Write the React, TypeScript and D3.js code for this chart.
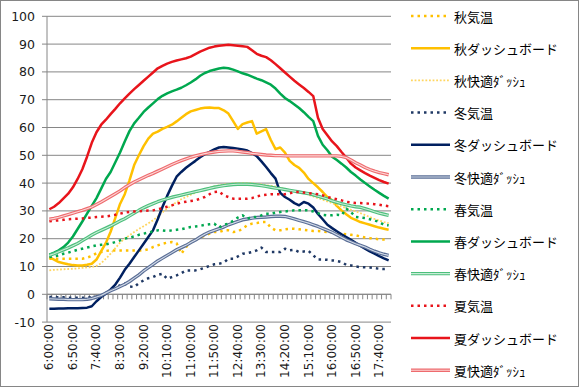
import * as d3 from "d3";

// 10-minute steps from 6:00 to 18:00
const times: string[] = Array.from({ length: 73 }, (_, i) => `${6 + Math.floor(i / 6)}:${i % 6}0:00`);
const yTicks = [-10, 0, 10, 20, 30, 40, 50, 60, 70, 80, 90, 100];

const autumnTemp = [
  12.8, 12.8, 12.8, 12.8, 12.8, 12.8, 12.8, 12.8, 13.2, 13.8,
  14.8, 15.2, 15.6, 15.8, 15.8, 15.8, 15.8, 15.8, 15.8, 15.8,
  15.8, 16.2, 17, 17.6, 18.2, 18.6, 18.8, 18.4, 14.6, 17,
  18.8, 19.6, 20.4, 21.2, 21.8, 22.4, 22.4, 23, 23, 22.4,
  22.6, 23.6, 24.8, 25.4, 25.6, 26, 26, 24, 23, 23,
  23.4, 23.6, 23.6, 23.4, 23.2, 23, 22.8, 22.8, 22.6, 22.4,
  22.2, 22, 21.8, 21.6, 21.4, 21.2, 20.8, 20.4, 20.2, 20,
  19.8, 19.7, 19.7,
];
const autumnDash = [
  13.4, 12.5, 11.6, 11.2, 10.8, 10.5, 10.4, 10.4, 10.6, 11,
  12.5, 15.5, 18.5, 22.5, 27.5, 32.5, 36, 41, 46.5, 50,
  53.3, 56, 57.8, 58.5, 59.5, 60.2, 61, 62.2, 63.5, 64.8,
  65.8, 66.3, 66.8, 67.1, 67.2, 67, 67, 66.2, 65, 62.3,
  59.5, 61.2, 61.8, 62.3, 57.8, 58.6, 59.4, 55.5, 52.2, 52.8,
  51, 48, 46.5, 45.5, 43.8, 41.5, 40, 38.5, 36.8, 35,
  33.8, 31.8, 30.2, 28.8, 27.5, 26.8, 26, 25.5, 25, 24.5,
  24, 23.6, 23.2,
];
const autumnComfort = [
  8.6, 8.8, 8.9, 9, 9.1, 9.2, 9.3, 9.5, 9.7, 9.8,
  10.2, 11.2, 12.8, 14.6, 16.6, 18.6, 20, 21.2, 22.4, 23.5,
  24.5, 25.5, 26.6, 28, 29.5, 30.8, 32, 33.2, 34.2, 35,
  35.8, 36.5, 37.2, 37.8, 38.3, 38.8, 39.2, 39.5, 39.7, 39.9,
  40, 40, 40, 39.9, 39.7, 39.5, 39.2, 39, 38.7, 38.3,
  37.9, 37.5, 37.1, 36.7, 36.3, 35.8, 35.2, 34.6, 34, 33.4,
  32.8, 32.2, 31.6, 31, 30.4, 29.8, 29.2, 28.5, 27.8, 27.1,
  26.5, 26, 25.6,
];
const winterTemp = [
  -1, -1, -1.1, -1.1, -1.2, -1.2, -1.2, -1.2, -1.2, -1,
  -0.8, -0.4, 0.4, 1.4, 2.4, 3.2, 3.8, 2.8, 2.6, 4,
  5, 5.8, 6.2, 7, 7.4, 5.6, 6.2, 6.8, 7.6, 8.6,
  8.6, 8.6, 9, 9.6, 10.2, 10.8, 11, 11.4, 12.8, 12.8,
  13.6, 14.6, 14.8, 15.2, 15.8, 16.8, 15.2, 15.2, 15.2, 15.2,
  16.4, 15.8, 16, 15.2, 15.4, 15.6, 14, 12.5, 12.5, 12.4,
  12.2, 12, 11.6, 10.6, 10.4, 10, 9.8, 9.7, 9.6, 9.4,
  9.2, 9.1, 9.2,
];
const winterDash = [
  -5.2, -5.2, -5.1, -5.1, -5, -5, -5, -4.9, -4.8, -4.3,
  -2.5, -1, 0.2, 1.8, 3.5, 6, 8.8, 11, 13.4, 15.8,
  18.2, 20.6, 23, 27, 31.4, 35.4, 39, 42.3, 44, 45.5,
  46.8, 48, 49.3, 50.4, 51.2, 52.1, 52.8, 53, 52.8, 52.6,
  52.4, 52.1, 51.7, 50.8, 49.7, 47.8, 45.8, 43.6, 41.6, 36.5,
  35, 34, 32.8, 32, 33.2, 32.6, 31.2, 28.9, 27, 25,
  23.8, 22.7, 21.6, 20.6, 19.6, 18.5, 17.4, 16.4, 15.4, 14.6,
  13.7, 12.9, 12.2,
];
const winterComfort = [
  -1.6, -1.7, -1.8, -1.8, -1.9, -1.9, -1.9, -1.9, -1.8, -1.5,
  -1, -0.4, 0.5, 1.3, 2, 2.8, 3.6, 4.6, 5.8, 7,
  8.4, 9.6, 10.8, 12, 13, 14, 15, 16, 16.8, 17.6,
  18.6, 19.5, 20.6, 21.6, 22.4, 23, 23.6, 24.2, 25, 25.6,
  26.2, 26.8, 27.1, 27.4, 27.6, 27.7, 27.8, 28, 28.1, 28.1,
  28, 27.6, 27.1, 26.6, 26.1, 25.6, 25, 24.4, 23.7, 23,
  22.3, 21.4, 20.5, 19.6, 18.9, 18.2, 17.6, 17, 16.2, 15.5,
  14.9, 14.4, 14,
];
const springTemp = [
  13.4, 13.6, 14, 14.6, 15, 15.5, 16, 16.4, 16.8, 17.2,
  17.6, 17.8, 18, 18.3, 18.8, 19.4, 20, 20.4, 20.8, 21.4,
  21.8, 22.2, 22.6, 23, 23, 22.8, 23, 23.2, 23.4, 23.8,
  24.2, 24.4, 24.6, 25, 25.2, 25.4, 24, 25, 25.4, 26.4,
  27.6, 28.4, 27.2, 27.8, 27.8, 28.4, 29, 29, 29.4, 29.6,
  29.8, 30, 30.2, 30.2, 30.2, 30.2, 29.8, 29.2, 28.6, 28.4,
  28.4, 28.6, 28.4, 30.8, 29.6, 27.8, 27.6, 27.4, 27, 26.6,
  26, 25, 24.8,
];
const springDash = [
  14.3, 15, 15.8, 17, 18.6, 20.8, 23.5, 26.2, 29, 31.8,
  34.6, 38, 41.5, 44, 47.5, 51, 55, 58.7, 61.5, 63.5,
  65.6, 67.2, 68.7, 70.2, 71.4, 72.3, 73, 73.6, 74.3, 75.2,
  76.2, 77.3, 78.6, 79.6, 80.3, 80.8, 81.2, 81.5, 81.3, 80.8,
  80.2, 79.5, 79, 78.3, 77.6, 77, 76.2, 75.4, 74, 72.2,
  70.6, 69.5, 68.3, 67, 65.5, 63.8, 62.3, 57, 53.8, 51.8,
  49.5, 48.3, 47, 45.6, 44, 42.7, 41.3, 40, 38.8, 37.6,
  36.5, 35.4, 34.4,
];
const springComfort = [
  14, 14.6, 15.3, 16, 16.7, 17.5, 18.3, 19.3, 20.3, 21.3,
  22.2, 23, 23.8, 24.6, 25.5, 26.4, 27.2, 28.2, 29.2, 30.2,
  31.1, 31.9, 32.6, 33.3, 33.9, 34.4, 34.9, 35.3, 35.7, 36.1,
  36.5, 36.9, 37.3, 37.7, 38.1, 38.5, 38.8, 39.1, 39.3, 39.5,
  39.6, 39.6, 39.6, 39.5, 39.3, 39.1, 38.8, 38.5, 38.2, 38,
  37.7, 37.4, 37.1, 36.8, 36.5, 36.2, 35.8, 35.3, 34.8, 34.3,
  33.6, 33.1, 32.6, 32.2, 31.8, 31.5, 31.3, 30.8, 30.3, 29.7,
  29.2, 28.8, 28.4,
];
const summerTemp = [
  26.3, 26.5, 26.6, 26.8, 27, 27.1, 27.2, 27.3, 27.5, 27.6,
  27.8, 27.9, 28, 28.3, 28.6, 29, 29.4, 29.6, 29.8, 29.9,
  30, 30.1, 30.2, 30.6, 31, 31.5, 32, 32.6, 33, 33.3,
  33.6, 33.8, 34.4, 35, 36, 36.8, 37, 35.6, 35, 34.4,
  34.4, 34.4, 34.4, 34.6, 35.2, 35.6, 35.8, 36, 36, 36,
  36, 36.3, 36.8, 36.8, 36.6, 36.4, 36.2, 36, 35.6, 35,
  34.6, 34.2, 33.8, 33.3, 33, 32.8, 32.8, 32.7, 32.6, 32.4,
  32.2, 31.9, 31.7,
];
const summerDash = [
  30.6, 31.5, 32.8, 34.5, 36.2, 38.5, 41.5, 45, 49.5, 54.5,
  58.3, 61, 62.8, 64.8, 66.7, 68.7, 70.5, 72.2, 73.8, 75.3,
  76.8, 78.3, 79.8, 81.3, 82.2, 83, 83.6, 84.1, 84.5, 84.9,
  85.5, 86.4, 87.3, 88, 88.7, 89.1, 89.4, 89.6, 89.8, 89.6,
  89.4, 89.2, 89, 87.8, 86.5, 85.8, 85.3, 84.2, 82.8, 81.3,
  79.8, 78.3, 76.8, 75.5, 74.2, 72.8, 71.3, 63.5, 59.5, 57.2,
  55, 53.3, 51.2, 49.2, 47, 45.6, 44.6, 43.6, 42.7, 41.9,
  41.1, 40.4, 39.8,
];
const summerComfort = [
  27, 27.3, 27.7, 28.2, 28.7, 29.2, 29.7, 30.2, 30.8, 31.4,
  32.3, 33.2, 34.2, 35.2, 36.2, 37.2, 38.4, 39.4, 40.4, 41.2,
  42, 42.8, 43.5, 44.3, 45.1, 45.9, 46.7, 47.4, 48.1, 48.7,
  49.3, 49.8, 50.2, 50.6, 50.9, 51.2, 51.4, 51.5, 51.6, 51.6,
  51.4, 51.2, 51, 50.7, 50.5, 50.3, 50.1, 50, 49.9, 49.9,
  49.8, 49.8, 49.8, 49.8, 49.8, 49.8, 49.8, 49.8, 49.8, 49.8,
  49.8, 49.8, 49.6, 49.2, 48.3, 47.3, 46.5, 45.6, 44.9, 44.3,
  43.8, 43.4, 43,
];

type Kind = "temp" | "dash" | "double" | "fine";
interface Series {
  name: string;
  values: number[];
  color: string;
  inner?: string;
  kind: Kind;
}

const series: Series[] = [
  { name: "秋気温", values: autumnTemp, color: "#FFC000", kind: "temp" },
  { name: "秋ダッシュボード", values: autumnDash, color: "#FFC000", kind: "dash" },
  { name: "秋快適ﾀﾞｯｼｭ", values: autumnComfort, color: "#FFD660", kind: "fine" },
  { name: "冬気温", values: winterTemp, color: "#1F3864", kind: "temp" },
  { name: "冬ダッシュボード", values: winterDash, color: "#002060", kind: "dash" },
  { name: "冬快適ﾀﾞｯｼｭ", values: winterComfort, color: "#5A6E96", inner: "#D3DBE8", kind: "double" },
  { name: "春気温", values: springTemp, color: "#00A84F", kind: "temp" },
  { name: "春ダッシュボード", values: springDash, color: "#00A84F", kind: "dash" },
  { name: "春快適ﾀﾞｯｼｭ", values: springComfort, color: "#4CBF7C", inner: "#C9EDD7", kind: "double" },
  { name: "夏気温", values: summerTemp, color: "#E8141B", kind: "temp" },
  { name: "夏ダッシュボード", values: summerDash, color: "#E8141B", kind: "dash" },
  { name: "夏快適ﾀﾞｯｼｭ", values: summerComfort, color: "#EE6B6E", inner: "#FCD6D6", kind: "double" },
];

const W = 580;
const H = 391;
const left = 47;
const right = 391;
const top = 16.3;
const bottom = 322.1;
const gridColor = "#868686";
const numFont = "'DejaVu Sans', sans-serif";
const jpFont = "'Noto Sans CJK JP', sans-serif";

const strokeProps = (s: Series) => {
  switch (s.kind) {
    case "temp":
      return { stroke: s.color, strokeWidth: 2.5, strokeDasharray: "2.5 4" };
    case "fine":
      return { stroke: s.color, strokeWidth: 1.8, strokeDasharray: "1.8 1.8" };
    case "double":
      return { stroke: s.color, strokeWidth: 3.4 };
    default:
      return { stroke: s.color, strokeWidth: 2.5 };
  }
};

export default function App() {
  const idx = d3.range(times.length);
  const x = d3.scalePoint<number>().domain(idx).range([left, right]).padding(0.5);
  const y = d3.scaleLinear().domain([-10, 100]).range([bottom, top]);
  const step = x.step();

  const line = d3
    .line<number>()
    .x((_, i) => x(i) as number)
    .y((d) => y(d));

  const catTicks = d3.range(times.length + 1).map((k) => left + k * step);

  return (
    <div style={{ position: "fixed", left: 0, top: 0 }}>
      <svg width={W} height={H} style={{ display: "block", background: "#fff" }}>
        <rect x={0.5} y={0.5} width={578} height={386} fill="#fff" stroke={gridColor} />

        {/* horizontal gridlines */}
        {yTicks.map((t) => (
          <line key={"g" + t} x1={left} x2={right} y1={y(t)} y2={y(t)} stroke={gridColor} strokeWidth={1} />
        ))}

        {/* y axis */}
        <line x1={left} x2={left} y1={top} y2={bottom} stroke={gridColor} />
        {yTicks.map((t) => (
          <g key={"y" + t}>
            <line x1={left - 5} x2={left} y1={y(t)} y2={y(t)} stroke={gridColor} />
            <text
              x={35}
              y={y(t)}
              textAnchor="end"
              dominantBaseline="central"
              fontFamily={numFont}
              fontSize={12.5}
              fill="#1a1a1a"
            >
              {t}
            </text>
          </g>
        ))}

        {/* x axis crossing at 0 */}
        <line x1={left} x2={right} y1={y(0)} y2={y(0)} stroke={gridColor} />
        {catTicks.map((cx, k) => (
          <line key={"t" + k} x1={cx} x2={cx} y1={y(0)} y2={y(0) + 5} stroke={gridColor} />
        ))}
        {times.map((t, i) =>
          i % 5 === 0 ? (
            <text
              key={"x" + i}
              transform={`translate(${x(i)},324) rotate(-90)`}
              textAnchor="end"
              dominantBaseline="central"
              fontFamily={numFont}
              fontSize={12}
              fill="#1a1a1a"
            >
              {t}
            </text>
          ) : null
        )}

        {/* series */}
        {series.map((s) => (
          <g key={s.name}>
            <path d={line(s.values) ?? ""} fill="none" strokeLinejoin="round" {...strokeProps(s)} />
            {s.kind === "double" && (
              <path d={line(s.values) ?? ""} fill="none" stroke={s.inner} strokeWidth={1.1} strokeLinejoin="round" />
            )}
          </g>
        ))}

        {/* legend */}
        {series.map((s, k) => {
          const ly = 16 + k * 32.2;
          return (
            <g key={"l" + s.name}>
              <line x1={411} x2={450} y1={ly} y2={ly} {...strokeProps(s)} />
              {s.kind === "double" && <line x1={411} x2={450} y1={ly} y2={ly} stroke={s.inner} strokeWidth={1.1} />}
              <text x={454} y={ly} dominantBaseline="central" fontFamily={jpFont} fontSize={13} fill="#000">
                {s.name}
              </text>
            </g>
          );
        })}
      </svg>
    </div>
  );
}
